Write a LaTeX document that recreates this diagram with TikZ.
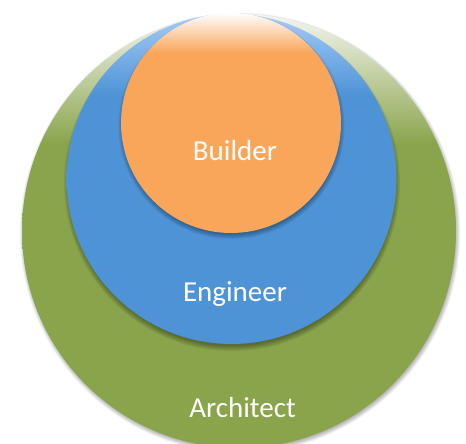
\documentclass[tikz,border=0pt]{standalone}
\usepackage{fontspec}
\setmainfont{Carlito}
\definecolor{archgreen}{HTML}{8AA44C}
\definecolor{archtop}{HTML}{F4F6EF}
\definecolor{engblue}{HTML}{4D93D6}
\definecolor{engtop}{HTML}{A6CBF6}
\definecolor{buildorange}{HTML}{F9A65A}
\definecolor{buildtop}{HTML}{FFFFFF}
\pgfdeclareverticalshading{greenfade}{100bp}{color(0bp)=(archgreen); color(60bp)=(archgreen); color(75bp)=(archtop); color(100bp)=(archtop)}
\pgfdeclareverticalshading{bluefade}{100bp}{color(0bp)=(engblue); color(62.5bp)=(engblue); color(75bp)=(engtop); color(100bp)=(engtop)}
\pgfdeclareverticalshading{orangefade}{100bp}{color(0bp)=(buildorange); color(66bp)=(buildorange); color(75bp)=(buildtop); color(100bp)=(buildtop)}
\tikzset{
  ring/.style={circle, inner sep=0pt, outer sep=0pt, draw=none},
  lbl/.style={text=white, font=\fontsize{29}{35}\selectfont, anchor=base, inner sep=0pt}
}
\newcommand\softshade[5]{% x y r dx dy
  \foreach \k in {1,...,7}{
    \fill[black, opacity=0.055] ({#1+#4}, {#2+#5}) circle ({#3 + 4 - \k*0.9});
  }
}
\begin{document}
\begin{tikzpicture}[x=1pt,y=1pt]
  \useasboundingbox (0,0) rectangle (466,444);
  \clip (0,0) rectangle (466,444);
  \fill[white] (0,0) rectangle (466,444);
  % Architect
  \softshade{239}{213}{217}{1}{-2}
  \node[ring, minimum size=434pt, shading=greenfade] (arch) at (239,213) {};
  % Engineer
  \softshade{231.5}{265}{165}{0.5}{-4}
  \node[ring, minimum size=330pt, shading=bluefade] (eng) at (231.5,265) {};
  % Builder
  \softshade{231}{321}{110}{0.5}{-3}
  \node[ring, minimum size=220pt, shading=orangefade] (build) at (231,321) {};
  % labels
  \node[lbl] (tbuild) at (235,283) {Builder};
  \node[lbl] (teng) at (235,142) {Engineer};
  \node[lbl] (tarch) at (242.5,26) {Architect};
\end{tikzpicture}
\end{document}
